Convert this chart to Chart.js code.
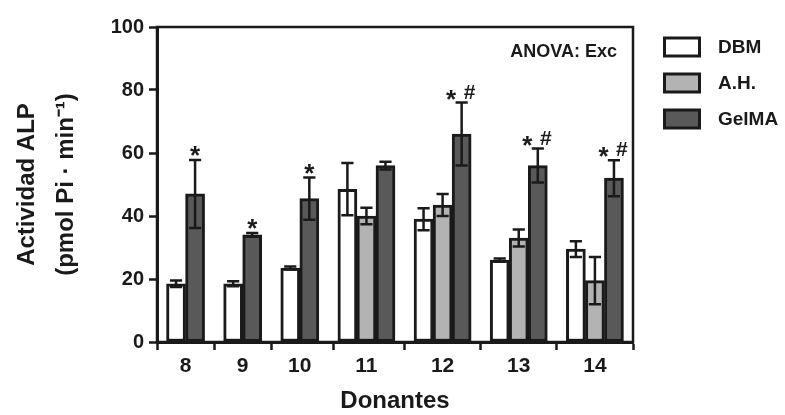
<!DOCTYPE html>
<html><head><meta charset="utf-8">
<script src="https://cdn.jsdelivr.net/npm/chart.js@4.4.0/dist/chart.umd.min.js"></script>
<style>html,body{margin:0;padding:0;background:#fff}#wrap{width:785px;height:415px}</style>
</head><body><div id="wrap"><canvas id="c" width="785" height="415"></canvas></div>
<script>
// ---- data ----
const donors = ['8', '9', '10', '11', '12', '13', '14'];
const seriesNames = ['DBM', 'A.H.', 'GelMA'];
const dbmValues = [18.5, 18.5, 23.5, 48.5, 39, 26, 29.5];
const dbmErrors = [1.0, 0.8, 0.5, 8.3, 3.5, 0.5, 2.5];
const ahValues = [null, null, null, 40, 43.5, 33, 19.5];
const ahErrors = [null, null, null, 2.6, 3.5, 2.7, 7.5];
const gelmaValues = [47, 34, 45.5, 56, 66, 56, 52];
const gelmaErrors = [10.8, 0.6, 6.7, 1.2, 10, 5.4, 5.7];
const gelmaMarks = ['*', '*', '*', '', '* #', '* #', '* #'];
const yTicks = [0, 20, 40, 60, 80, 100];
const anovaNote = 'ANOVA: Exc';
const xTitle = 'Donantes';
const yTitle = ['Actividad ALP', '(pmol Pi · min⁻¹)'];

// ---- styles ----
const ink = '#1a1a1a';
const fills = ['#ffffff', '#b3b3b3', '#595959'];
const FONT = "'Liberation Sans', Arial, sans-serif";

// ---- slot layout: each present bar takes one slot, one empty slot after each group ----
const seriesValues = [dbmValues, ahValues, gelmaValues];
const seriesErrors = [dbmErrors, ahErrors, gelmaErrors];
const slotData = [[], [], []];
const groupCenters = [];
let slot = 1;
donors.forEach((d, g) => {
  const xs = [];
  seriesValues.forEach((vals, s) => {
    if (vals[g] === null) return;
    slotData[s].push({x: slot, y: vals[g], err: seriesErrors[s][g], mark: s === 2 ? gelmaMarks[g] : ''});
    xs.push(slot);
    slot++;
  });
  groupCenters.push((xs[0] + xs[xs.length - 1]) / 2);
  slot++;
});
const xMax = slot - 1;

Chart.defaults.font.family = FONT;
Chart.defaults.font.weight = 'bold';
Chart.defaults.color = ink;

const overlay = {
  id: 'overlay',
  afterDatasetsDraw(chart) {
    const {ctx, chartArea: a, scales: {y}} = chart;
    ctx.save();
    ctx.strokeStyle = ink;
    ctx.fillStyle = ink;
    chart.data.datasets.forEach((ds, di) => {
      const meta = chart.getDatasetMeta(di);
      meta.data.forEach((bar, i) => {
        const p = ds.data[i];
        const yt = y.getPixelForValue(p.y + p.err);
        const yb = y.getPixelForValue(p.y - p.err);
        const hw = bar.width * 0.32;
        ctx.lineWidth = 2.5;
        ctx.beginPath();
        ctx.moveTo(bar.x, yt); ctx.lineTo(bar.x, yb);
        ctx.moveTo(bar.x - hw, yt); ctx.lineTo(bar.x + hw, yt);
        ctx.moveTo(bar.x - hw, yb); ctx.lineTo(bar.x + hw, yb);
        ctx.stroke();
        if (p.mark) {
          const parts = p.mark.split(' ');
          ctx.textAlign = 'center';
          ctx.textBaseline = 'alphabetic';
          ctx.font = 'bold 26px ' + FONT;
          if (parts.length === 1) {
            ctx.fillText(parts[0], bar.x, yt + 4);
          } else {
            ctx.fillText(parts[0], bar.x - 10.5, yt + 5);
            ctx.font = 'bold 21px ' + FONT;
            ctx.fillText(parts[1], bar.x + 8, yt - 4);
          }
        }
      });
    });
    // frame
    ctx.lineWidth = 2.5;
    ctx.strokeRect(a.left, a.top, a.right - a.left, a.bottom - a.top);
    // ANOVA note
    ctx.font = 'bold 18px ' + FONT;
    ctx.textAlign = 'right';
    ctx.textBaseline = 'middle';
    ctx.fillText(anovaNote, a.right - 16, a.top + 25);
    // legend
    chart.data.datasets.forEach((ds, di) => {
      const cy = a.top + 20 + 36 * di;
      ctx.fillStyle = ds.backgroundColor;
      ctx.strokeStyle = ds.borderColor;
      ctx.lineWidth = 3;
      ctx.fillRect(a.right + 31.5, cy - 9, 35, 18);
      ctx.strokeRect(a.right + 31.5, cy - 9, 35, 18);
      ctx.fillStyle = ink;
      ctx.font = 'bold 19px ' + FONT;
      ctx.textAlign = 'left';
      ctx.textBaseline = 'middle';
      ctx.fillText(ds.label, a.right + 85, cy + 1);
    });
    ctx.restore();
  }
};

new Chart(document.getElementById('c'), {
  type: 'bar',
  data: {
    datasets: seriesNames.map((name, s) => ({
      label: name,
      data: slotData[s],
      backgroundColor: fills[s],
      borderColor: ink,
      borderWidth: 3,
      borderSkipped: false,
      grouped: false,
      categoryPercentage: 1,
      barPercentage: 1
    }))
  },
  options: {
    responsive: false,
    animation: false,
    layout: {padding: {left: 0, right: 152, top: 27, bottom: 0}},
    plugins: {legend: {display: false}, tooltip: {enabled: false}},
    scales: {
      x: {
        type: 'linear', min: 0, max: xMax, offset: false,
        afterBuildTicks: s => { s.ticks = groupCenters.map(v => ({value: v})); },
        afterFit: s => { s.height = 73; },
        ticks: {autoSkip: false, maxRotation: 0, padding: 4, font: {size: 21, weight: 'bold'}, color: ink,
                callback: (v, i) => donors[i]},
        grid: {display: true, drawOnChartArea: false, drawTicks: true, tickLength: 8, tickWidth: 2.5, tickColor: ink},
        border: {display: true, color: ink, width: 3},
        title: {display: true, text: xTitle, color: ink, font: {size: 24, weight: 'bold', lineHeight: 1.1}, padding: {top: 0, bottom: 0}}
      },
      y: {
        min: 0, max: 100,
        afterBuildTicks: s => { s.ticks = yTicks.map(v => ({value: v})); },
        afterFit: s => { s.width = 157; },
        ticks: {padding: 5, font: {size: 20, weight: 'bold'}, color: ink},
        grid: {display: true, drawOnChartArea: false, drawTicks: true, tickLength: 8, tickWidth: 2.5, tickColor: ink},
        border: {display: true, color: ink, width: 3},
        title: {display: true, text: yTitle, color: ink, font: {size: 24, weight: 'bold', lineHeight: 1.625}, padding: {top: 7.5, bottom: 0}}
      }
    }
  },
  plugins: [overlay]
});
</script></body></html>
